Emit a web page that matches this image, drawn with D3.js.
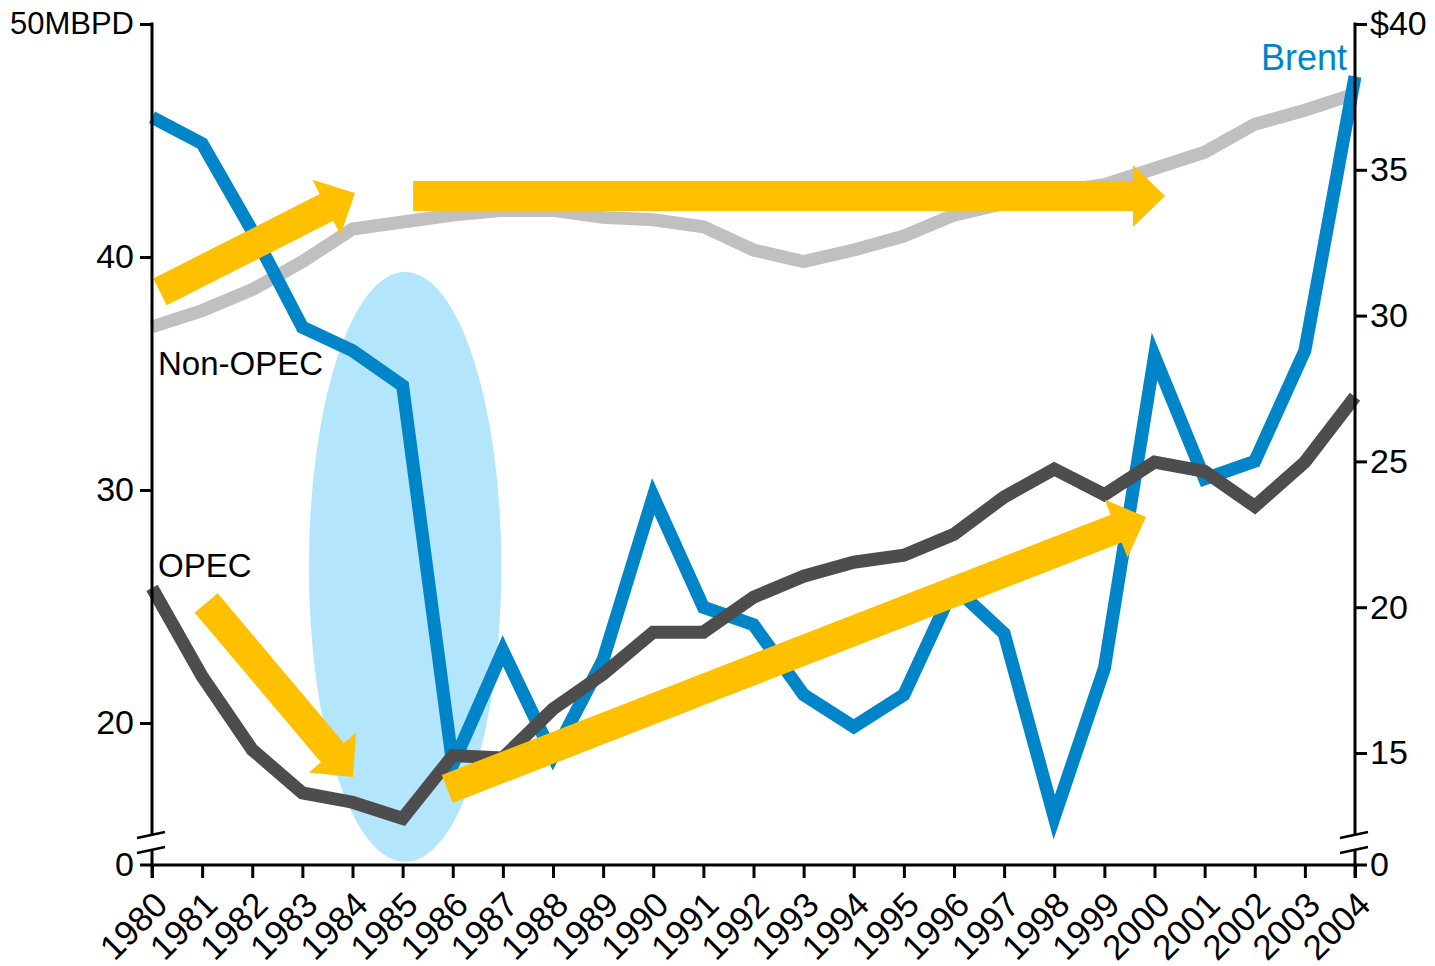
<!DOCTYPE html>
<html>
<head>
<meta charset="utf-8">
<script src="https://cdn.jsdelivr.net/npm/d3@7/dist/d3.min.js"></script>
<style>
  body { margin: 0; background: #fff; }
  text { font-family: 'Liberation Sans', Arial, sans-serif; }
</style>
</head>
<body>
<svg id="chart"></svg>
<script>
// Years on the x axis
var years = [1980, 1981, 1982, 1983, 1984, 1985, 1986, 1987, 1988, 1989, 1990, 1991,
  1992, 1993, 1994, 1995, 1996, 1997, 1998, 1999, 2000, 2001, 2002, 2003, 2004];

// Production, million barrels per day (left axis)
var nonOpec = [37.0, 37.7, 38.6, 39.8, 41.2, 41.5, 41.8, 42.0, 42.0, 41.7, 41.6, 41.3,
  40.3, 39.8, 40.3, 40.9, 41.8, 42.3, 42.8, 43.1, 43.8, 44.5, 45.7, 46.3, 47.0];
var opec = [25.8, 22.0, 18.85, 17.0, 16.6, 15.9, 18.6, 18.5, 20.6, 22.1, 23.9, 23.9,
  25.4, 26.3, 26.9, 27.2, 28.1, 29.7, 30.9, 29.8, 31.2, 30.8, 29.3, 31.2, 34.0];

// Brent price, $ per barrel (right axis)
var brent = [36.8, 35.9, 32.9, 29.6, 28.8, 27.6, 14.6, 18.5, 14.9, 18.2, 23.8, 20.0,
  19.4, 17.0, 15.9, 17.0, 20.7, 19.1, 12.8, 17.9, 28.6, 24.4, 25.0, 28.8, 38.2];

var leftTicks = [20, 30, 40, 50];
var rightTicks = [15, 20, 25, 30, 35, 40];

// Annotations, in [year, MBPD] units
var arrows = [
  {from: [1980.16, 38.5], to: [1984.05, 42.75]},
  {from: [1985.21, 42.62], to: [2000.21, 42.62]},
  {from: [1981.08, 25.15], to: [1984.01, 17.68]},
  {from: [1985.89, 17.17], to: [1999.83, 28.84]}
];
var crash = {year: 1985.05, mbpd: 26.7, yearHalf: 1.92, mbpdHalf: 12.66};

var svg = d3.select('#chart')
  .attr('width', 1435)
  .attr('height', 966);

var plotTop = 24, plotBase = 865, breakTop = 835, breakBot = 850;

var x = d3.scaleLinear().domain([1980, 2004]).range([152, 1355]);
var yL = d3.scaleLinear().domain([20, 50]).range([723, plotTop]);
var yR = d3.scaleLinear().domain([15, 40]).range([753, plotTop]);

// Ellipse behind the lines
svg.append('ellipse')
  .attr('cx', x(crash.year))
  .attr('cy', yL(crash.mbpd))
  .attr('rx', x(crash.year + crash.yearHalf) - x(crash.year))
  .attr('ry', yL(crash.mbpd - crash.mbpdHalf) - yL(crash.mbpd))
  .style('fill', '#b3e5fc');

function drawLine(values, scale, color) {
  var line = d3.line()
    .x(function (d, i) { return x(years[i]); })
    .y(function (d) { return scale(d); });
  svg.append('path')
    .datum(values)
    .attr('d', line)
    .style('fill', 'none')
    .style('stroke', color)
    .style('stroke-width', 13)
    .style('stroke-linejoin', 'miter')
    .style('stroke-miterlimit', 10);
}

drawLine(nonOpec, yL, '#c0c0c0');
drawLine(brent, yR, '#0085c8');
drawLine(opec, yL, '#4d4d4d');

// Block arrows
function arrowPoints(a) {
  var x0 = x(a.from[0]), y0 = yL(a.from[1]);
  var x1 = x(a.to[0]), y1 = yL(a.to[1]);
  var dx = x1 - x0, dy = y1 - y0, len = Math.sqrt(dx * dx + dy * dy);
  var ux = dx / len, uy = dy / len, px = -uy, py = ux;
  var sw = 15, hw = 31, hl = 32;
  var bx = x1 - ux * hl, by = y1 - uy * hl;
  return [
    [x0 + px * sw, y0 + py * sw],
    [bx + px * sw, by + py * sw],
    [bx + px * hw, by + py * hw],
    [x1, y1],
    [bx - px * hw, by - py * hw],
    [bx - px * sw, by - py * sw],
    [x0 - px * sw, y0 - py * sw]
  ];
}

svg.selectAll('polygon.arrow')
  .data(arrows)
  .enter()
  .append('polygon')
  .attr('class', 'arrow')
  .attr('points', function (d) { return arrowPoints(d).join(' '); })
  .style('fill', '#ffc000');

// Axes
var axisColor = '#000';

var leftAxis = svg.append('g')
  .attr('transform', 'translate(' + x(1980) + ',0)')
  .call(d3.axisLeft(yL).tickValues(leftTicks).tickSize(12).tickPadding(6)
    .tickFormat(function (d) { return d === 50 ? '50MBPD' : d; }));

var rightAxis = svg.append('g')
  .attr('transform', 'translate(' + x(2004) + ',0)')
  .call(d3.axisRight(yR).tickValues(rightTicks).tickSize(12).tickPadding(3)
    .tickFormat(function (d) { return d === 40 ? '$40' : d; }));

var bottomAxis = svg.append('g')
  .attr('transform', 'translate(0,' + plotBase + ')')
  .call(d3.axisBottom(x).tickValues(years).tickSize(13).tickFormat(d3.format('d')));

[leftAxis, rightAxis, bottomAxis].forEach(function (g) {
  g.select('.domain').remove();
  g.selectAll('line').style('stroke', axisColor).style('stroke-width', 3);
  g.selectAll('text').style('font-size', '34px').style('fill', '#000');
});
leftAxis.selectAll('text')
  .filter(function (d) { return d === 50; })
  .style('font-size', '31px');

bottomAxis.selectAll('text')
  .attr('x', 0)
  .attr('y', 0)
  .attr('dy', 0)
  .style('font-size', '35px')
  .style('text-anchor', 'end')
  .attr('transform', 'translate(17,42) rotate(-45)');

// Spines with breaks
function spine(xPos) {
  svg.append('line')
    .attr('x1', xPos).attr('x2', xPos)
    .attr('y1', plotTop - 1.5).attr('y2', breakTop)
    .style('stroke', axisColor).style('stroke-width', 3);
  svg.append('line')
    .attr('x1', xPos).attr('x2', xPos)
    .attr('y1', breakBot).attr('y2', plotBase + 13)
    .style('stroke', axisColor).style('stroke-width', 3);
  [breakTop, breakBot].forEach(function (yb) {
    svg.append('line')
      .attr('x1', xPos - 15).attr('y1', yb + 3)
      .attr('x2', xPos + 13).attr('y2', yb - 3)
      .style('stroke', axisColor).style('stroke-width', 2.5);
  });
}
spine(x(1980));
spine(x(2004));

svg.append('line')
  .attr('x1', x(1980) - 12).attr('x2', x(2004) + 12)
  .attr('y1', plotBase).attr('y2', plotBase)
  .style('stroke', axisColor).style('stroke-width', 3);

// Zero labels below the break
svg.append('text')
  .attr('x', x(1980) - 18).attr('y', plotBase)
  .attr('dy', '0.32em')
  .style('text-anchor', 'end')
  .style('font-size', '34px')
  .text('0');
svg.append('text')
  .attr('x', x(2004) + 15).attr('y', plotBase)
  .attr('dy', '0.32em')
  .style('font-size', '34px')
  .text('0');

// Series labels
svg.append('text')
  .attr('x', x(1980) + 6).attr('y', 375)
  .style('font-size', '33px')
  .text('Non-OPEC');
svg.append('text')
  .attr('x', x(1980) + 6).attr('y', 577)
  .style('font-size', '33px')
  .text('OPEC');
svg.append('text')
  .attr('x', x(2004) - 8).attr('y', 70)
  .style('text-anchor', 'end')
  .style('font-size', '36px')
  .style('fill', '#0085c8')
  .text('Brent');
</script>
</body>
</html>
